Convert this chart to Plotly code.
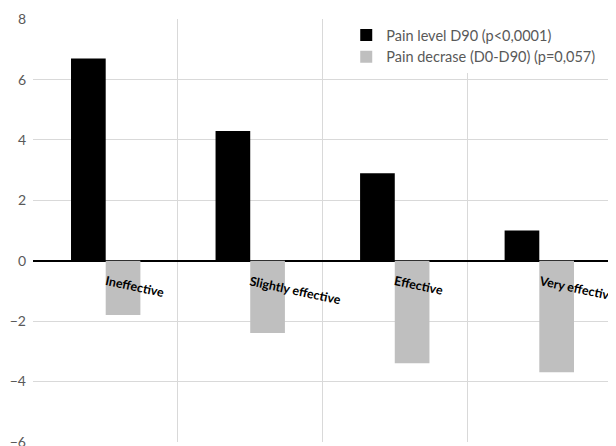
import plotly.graph_objects as go

categories = ["Ineffective", "Slightly effective", "Effective", "Very effective"]
pain_level_d90 = [6.7, 4.3, 2.9, 1.0]
pain_decrease = [-1.8, -2.4, -3.4, -3.7]
series_names = ["Pain level D90 (p<0,0001)", "Pain decrase (D0-D90) (p=0,057)"]
y_ticks = [-6, -4, -2, 0, 2, 4, 6, 8]

FONT = "Lato"

fig = go.Figure()
fig.add_trace(go.Bar(x=categories, y=pain_level_d90, name=series_names[0],
                     marker=dict(color="#000000", line=dict(width=0))))
fig.add_trace(go.Bar(x=categories, y=pain_decrease, name=series_names[1],
                     marker=dict(color="#bfbfbf", line=dict(width=0))))

for c in categories:
    fig.add_annotation(x=c, y=0, xref="x", yref="y", text="<b>%s</b>" % c,
                       showarrow=False, textangle=12, xanchor="left", yanchor="top",
                       xshift=-4, yshift=-10,
                       font=dict(family=FONT, size=12.5, color="#000000"))

fig.update_layout(
    width=608, height=438,
    margin=dict(l=25, r=4, t=11, b=4, autoexpand=False),
    paper_bgcolor="white", plot_bgcolor="white",
    barmode="group", bargap=0.52, bargroupgap=0,
    font=dict(family=FONT, size=14, color="#595959"),
    showlegend=True,
    legend=dict(x=0.541, y=1.0, xanchor="left", yanchor="top",
                bgcolor="white", font=dict(family=FONT, size=14.5, color="#595959"),
                tracegroupgap=0, borderwidth=0),
)
fig.update_xaxes(type="category", range=[-0.503, 3.503], tickson="boundaries",
                 showgrid=True, gridcolor="#d9d9d9", gridwidth=1, automargin=False,
                 showticklabels=False, ticks="", showline=False, zeroline=False)
fig.update_yaxes(range=[-6.01, 8.01], tickvals=y_ticks, showgrid=True, gridcolor="#d9d9d9",
                 gridwidth=1, zeroline=True, zerolinecolor="#000000", zerolinewidth=1.5,
                 showline=False, ticks="", ticklabelstandoff=6, ticklabeloverflow="allow",
                 automargin=False,
                 tickfont=dict(family=FONT, size=14, color="#595959"))

fig.write_html("out.html")
